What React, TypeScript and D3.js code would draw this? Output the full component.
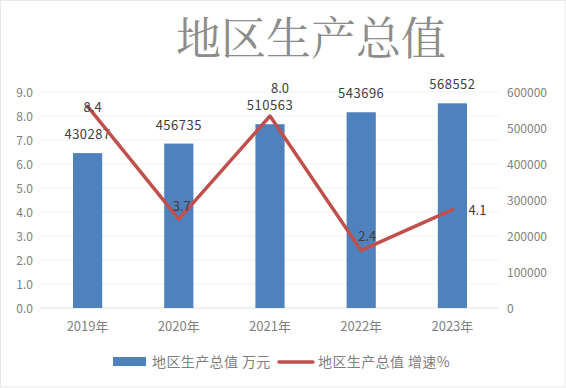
import React from "react";
import * as d3 from "d3";

const categories = ["2019年", "2020年", "2021年", "2022年", "2023年"];
const gdpValues = [430287, 456735, 510563, 543696, 568552];
const growthValues = [8.4, 3.7, 8.0, 2.4, 4.1];
const leftTicks = [0, 1, 2, 3, 4, 5, 6, 7, 8, 9];
const rightTicks = [0, 100000, 200000, 300000, 400000, 500000, 600000];
const title = "地区生产总值";
const seriesNames = ["地区生产总值 万元", "地区生产总值 增速%"];

const W = 566;
const H = 388;
const FONT = "'Noto Sans CJK SC', 'Noto Sans', sans-serif";

// label offsets for line data labels (dx, dy) relative to point
const lineLabelOffsets: [number, number][] = [
  [5, 1],
  [3, -13],
  [10, -28],
  [6, -14],
  [25, 0],
];

export default function App() {
  const plot = { left: 42, right: 498, top: 92, bottom: 308 };
  const x = d3
    .scaleBand<string>()
    .domain(categories)
    .range([plot.left, plot.right])
    .paddingInner(0.68)
    .paddingOuter(0.34);
  const yL = d3.scaleLinear().domain([0, 9]).range([plot.bottom, plot.top]);
  const yR = d3.scaleLinear().domain([0, 600000]).range([plot.bottom, plot.top]);
  const cx = (c: string) => (x(c) as number) + x.bandwidth() / 2;

  const line = d3
    .line<number>()
    .x((_, i) => cx(categories[i]))
    .y((d) => yL(d));

  return (
    <svg
      width={W}
      height={H}
      style={{ position: "absolute", left: 0, top: 0, background: "#fff" }}
      fontFamily={FONT}
    >
      <rect x={0.5} y={0.5} width={W - 1.5} height={H - 1.5} fill="#fff" stroke="#e8e8e8" />
      <text
        x={311}
        y={55}
        textAnchor="middle"
        fontSize={45}
        fill="#8c8c8c"
        fontFamily="'Noto Serif CJK SC', 'Noto Sans CJK SC', serif"
      >
        {title}
      </text>
      {leftTicks.map((t) => (
        <g key={t}>
          <line
            x1={plot.left - 2}
            x2={plot.right}
            y1={yL(t)}
            y2={yL(t)}
            stroke={t === 0 ? "#e0e0e0" : "#f0f0f0"}
            strokeWidth={1}
          />
          <text x={33} y={yL(t) + 4.5} textAnchor="end" fontSize={12} fill="#7f7f7f">
            {t.toFixed(1)}
          </text>
        </g>
      ))}
      {rightTicks.map((t) => (
        <text key={t} x={507} y={yR(t) + 4.5} textAnchor="start" fontSize={12} fill="#7f7f7f">
          {t}
        </text>
      ))}
      {categories.map((c, i) => (
        <g key={c}>
          <rect
            x={x(c)}
            y={yR(gdpValues[i])}
            width={x.bandwidth()}
            height={plot.bottom - yR(gdpValues[i])}
            fill="#4f81bd"
          />
          <text
            x={cx(c)}
            y={yR(gdpValues[i]) - 14}
            textAnchor="middle"
            fontSize={13}
            fill="#404040"
            letterSpacing={0.5}
          >
            {gdpValues[i]}
          </text>
          <text x={cx(c)} y={331} textAnchor="middle" fontSize={13} fill="#7f7f7f">
            {c}
          </text>
        </g>
      ))}
      <path
        d={line(growthValues) as string}
        fill="none"
        stroke="#c0504d"
        strokeWidth={3.5}
        strokeLinejoin="round"
        strokeLinecap="round"
      />
      {growthValues.map((v, i) => (
        <text
          key={i}
          x={cx(categories[i]) + lineLabelOffsets[i][0]}
          y={yL(v) + lineLabelOffsets[i][1] + 5}
          textAnchor="middle"
          fontSize={13}
          fill="#404040"
        >
          {v.toFixed(1)}
        </text>
      ))}
      <g>
        <rect x={113} y={357} width={33} height={9} fill="#4f81bd" />
        <text x={152} y={367} fontSize={14} fill="#7f7f7f" letterSpacing={0.4}>
          {seriesNames[0]}
        </text>
        <line x1={279} x2={313} y1={362} y2={362} stroke="#c0504d" strokeWidth={3.5} strokeLinecap="round" />
        <text x={318} y={367} fontSize={14} fill="#7f7f7f" letterSpacing={0.4}>
          {seriesNames[1]}
        </text>
      </g>
    </svg>
  );
}
